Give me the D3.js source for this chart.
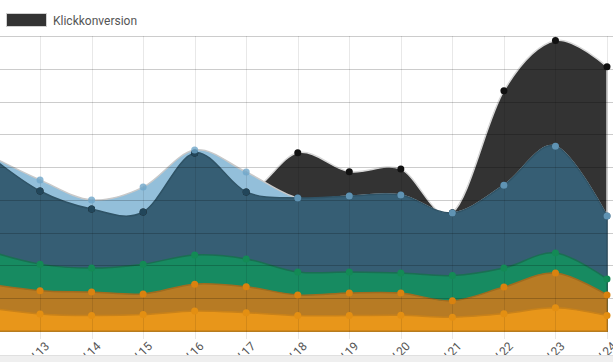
<!DOCTYPE html>
<html>
<head>
<meta charset="utf-8">
<script src="https://cdn.jsdelivr.net/npm/d3@7"></script>
<style>
  body { margin: 0; background: #fff; }
  text { font-family: Roboto, "Open Sans", sans-serif; }
</style>
</head>
<body>
<div id="chart"></div>
<script>
// week labels (first one is off screen on the left)
let labels = ["KW.12", "KW.13", "KW.14", "KW.15", "KW.16", "KW.17", "KW.18",
              "KW.19", "KW.20", "KW.21", "KW.22", "KW.23", "KW.24"]

// series values
let klickkonversion = [5.37, 4.27, 3.72, 3.63, 5.43, 4.24, 5.44, 4.86, 4.94, 3.61, 7.33, 8.86, 8.06]
let hellblau        = [5.37, 4.61, 4.00, 4.39, 5.52, 4.85, 4.06, 4.12, 4.15, 3.60, 4.45, 5.64, 3.51]
let dunkelblau      = [5.37, 4.27, 3.72, 3.63, 5.43, 4.24, 4.06, 4.12, 4.15, 3.60, 4.45, 5.64, 3.51]
let gruen           = [2.44, 2.04, 1.92, 2.04, 2.32, 2.20, 1.80, 1.80, 1.77, 1.69, 1.92, 2.38, 1.59]
let braun           = [1.43, 1.23, 1.19, 1.13, 1.43, 1.35, 1.10, 1.16, 1.16, 0.92, 1.34, 1.77, 1.10]
let orange          = [0.70, 0.52, 0.47, 0.50, 0.61, 0.56, 0.47, 0.47, 0.48, 0.42, 0.53, 0.71, 0.47]

let yTicks = [0, 1, 2, 3, 4, 5, 6, 7, 8, 9]

let width = 613
let height = 362

let series = [
  {name: "Klickkonversion", values: klickkonversion, fill: "#333333", dot: "#111111", stroke: "#d8d8d8", dotOpacity: 1},
  {name: "hellblau", values: hellblau, fill: "#93bfda", dot: "#6fa6c9", stroke: "#c9c9c9", dotOpacity: 0.8},
  {name: "dunkelblau", values: dunkelblau, fill: "#365e74", dot: "#22465a", stroke: "#2f5366", dotOpacity: 1},
  {name: "gruen", values: gruen, fill: "#178b61", dot: "#138a55", stroke: "#1a6f52", dotOpacity: 1},
  {name: "braun", values: braun, fill: "#b77b24", dot: "#d9820f", stroke: "#a06b1f", dotOpacity: 1},
  {name: "orange", values: orange, fill: "#e8961a", dot: "#e38f12", stroke: "#c9821a", dotOpacity: 1}
]

let svg = d3.select("#chart")
  .append("svg")
  .attr("width", width)
  .attr("height", height)

let x = d3.scalePoint()
  .domain(labels)
  .range([-11.5, 607])

let y = d3.scaleLinear()
  .domain([0, 9])
  .range([331, 36])

// legend
svg.append("rect")
  .attr("x", 6.5).attr("y", 13.5)
  .attr("width", 40).attr("height", 13)
  .attr("fill", "#333")
  .attr("stroke", "#d0d0d0")
svg.append("text")
  .attr("x", 53).attr("y", 24.5)
  .attr("font-size", 12)
  .attr("fill", "#555")
  .text("Klickkonversion")

// areas
let area = d3.area()
  .x((d, i) => x(labels[i]))
  .y0(y(0))
  .y1(d => y(d))
  .curve(d3.curveCardinal)

let areas = svg.append("g")
series.forEach(s => {
  areas.append("path")
    .datum(s.values)
    .attr("fill", s.fill)
    .attr("stroke", s.stroke)
    .attr("stroke-width", 1.5)
    .attr("d", area)
})

// grid lines on top of the areas
let grid = svg.append("g")
grid.selectAll("line.h")
  .data(yTicks)
  .join("line")
  .attr("class", "h")
  .attr("x1", 0).attr("x2", width)
  .attr("y1", d => Math.round(y(d)) + 0.5)
  .attr("y2", d => Math.round(y(d)) + 0.5)
  .attr("stroke", d => d === 0 ? "none" : "rgba(0,0,0,0.2)")

grid.selectAll("line.v")
  .data(labels)
  .join("line")
  .attr("class", "v")
  .attr("x1", d => Math.round(x(d)) + 0.5)
  .attr("x2", d => Math.round(x(d)) + 0.5)
  .attr("y1", y(9)).attr("y2", 339)
  .attr("stroke", "rgba(0,0,0,0.09)")

// dots
let dotOrder = [0, 2, 1, 3, 4, 5]
dotOrder.forEach(k => {
  let s = series[k]
  svg.append("g")
    .selectAll("circle")
    .data(s.values)
    .join("circle")
    .attr("cx", (d, i) => x(labels[i]))
    .attr("cy", d => y(d))
    .attr("r", 3.5)
    .attr("fill", s.dot)
    .attr("opacity", s.dotOpacity)
})

// x labels
svg.append("g")
  .selectAll("text")
  .data(labels)
  .join("text")
  .attr("transform", d => `translate(${x(d) + 4},${341}) rotate(-45)`)
  .attr("text-anchor", "end")
  .attr("dy", "0.7em")
  .attr("font-size", 12)
  .attr("fill", "#555")
  .text(d => d)

// grey strip at the bottom
svg.append("rect")
  .attr("x", 0).attr("y", 355)
  .attr("width", width).attr("height", 7)
  .attr("fill", "#efefef")
svg.append("line")
  .attr("x1", 0).attr("x2", width)
  .attr("y1", 355.5).attr("y2", 355.5)
  .attr("stroke", "#e0e0e0")
</script>
</body>
</html>
